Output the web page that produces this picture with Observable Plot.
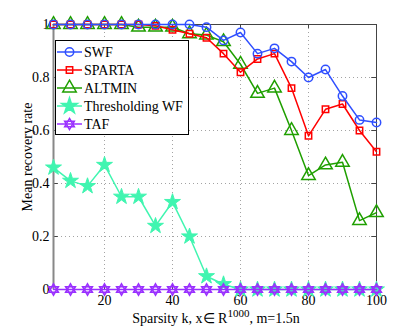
<!DOCTYPE html>
<html><head><meta charset="utf-8">
<script src="https://cdn.jsdelivr.net/npm/d3@7"></script>
<script src="https://cdn.jsdelivr.net/npm/@observablehq/plot@0.6"></script>
<style>
body{margin:0;background:#fff;font-family:"Liberation Serif"}
svg{display:block}
</style>
</head><body>
<script>
const ks = [5,10,15,20,25,30,35,40,45,50,55,60,65,70,75,80,85,90,95,100];
const swf = [1,1,1,1,1,1,1,1,1,0.99,0.94,0.97,0.89,0.91,0.86,0.80,0.83,0.73,0.64,0.63];
const sparta = [1,1,1,1,1,1,0.995,0.98,0.965,0.95,0.89,0.82,0.87,0.89,0.76,0.58,0.68,0.70,0.60,0.52];
const altmin = [1,1,1,1,1,0.99,0.99,0.99,0.965,0.96,0.935,0.85,0.74,0.76,0.60,0.43,0.47,0.48,0.26,0.29];
const thwf = [0.46,0.41,0.39,0.47,0.35,0.35,0.24,0.33,0.20,0.05,0.02,0,0,0,0,0,0,0,0,0];
const taf = [0,0,0,0,0,0,0,0,0,0,0,0,0,0,0,0,0,0,0,0];
const seriesNames = ["SWF","SPARTA","ALTMIN","Thresholding WF","TAF"];
const colors = ["#2f4fff","#ff0000","#1f9f00","#40f5b0","#9a30ff"];
const xTicks = [20,40,60,80,100];
const yTicks = [0,0.2,0.4,0.6,0.8,1];

const mk = (vals, s) => ks.map((k,i)=>({k, v: vals[i], s}));
const dSWF = mk(swf, seriesNames[0]);
const dSP = mk(sparta, seriesNames[1]);
const dAL = mk(altmin, seriesNames[2]);
const dTH = mk(thwf, seriesNames[3]);
const dTA = mk(taf, seriesNames[4]);
const font = "Liberation Serif";

const svg = Plot.plot({
  width: 415, height: 327,
  marginLeft: 53, marginRight: 39, marginTop: 24, marginBottom: 38,
  style: {fontFamily: font, fontSize: "14px", background: "#fff"},
  x: {domain: [5,100], ticks: xTicks, tickSize: 0, tickPadding: 6, label: null},
  y: {domain: [0,1], ticks: yTicks, tickSize: 0, tickPadding: 4, label: null, tickFormat: d3.format("")},
  marks: [
    Plot.gridX(xTicks.slice(0,4), {stroke: "#999", strokeOpacity: 0.9, strokeDasharray: "1,3"}),
    Plot.gridY(yTicks.slice(1,5), {stroke: "#999", strokeOpacity: 0.9, strokeDasharray: "1,3"}),
    Plot.frame({stroke: "#444", strokeWidth: 1}),
    Plot.ruleX(xTicks.slice(0,4), {y1: 0, y2: 0.015, stroke: "#444"}),
    Plot.ruleX(xTicks.slice(0,4), {y1: 1, y2: 0.985, stroke: "#444"}),
    Plot.ruleY(yTicks.slice(1,5), {x1: 5, x2: 6.4, stroke: "#444"}),
    Plot.ruleY(yTicks.slice(1,5), {x1: 100, x2: 98.6, stroke: "#444"}),
    Plot.ruleX([5], {stroke: "#888", strokeWidth: 2}),
    Plot.axisX({ticks: xTicks, tickSize: 0, tickPadding: 6, label: null, fontSize: 14}),
    Plot.axisY({ticks: yTicks, tickSize: 0, tickPadding: 4, label: null, fontSize: 14, tickFormat: d3.format("")}),
    // Thresholding WF
    Plot.line(dTH, {x: "k", y: "v", stroke: colors[3], strokeWidth: 1.5}),
    Plot.dot(dTH, {x: "k", y: "v", symbol: "star", r: 5, fill: colors[3], stroke: colors[3], strokeWidth: 1}),
    // TAF
    Plot.line(dTA, {x: "k", y: "v", stroke: colors[4], strokeWidth: 1.5}),
    Plot.dot(dTA, {x: "k", y: "v", symbol: "triangle", r: 3.6, fill: "none", stroke: colors[4], strokeWidth: 1.6}),
    Plot.dot(dTA, {x: "k", y: "v", symbol: "triangle", r: 3.6, rotate: 180, fill: "none", stroke: colors[4], strokeWidth: 1.6}),
    // ALTMIN
    Plot.line(dAL, {x: "k", y: "v", stroke: colors[2], strokeWidth: 1.5}),
    Plot.dot(dAL, {x: "k", y: "v", symbol: "triangle", r: 5, fill: "none", stroke: colors[2], strokeWidth: 1.5}),
    // SPARTA
    Plot.line(dSP, {x: "k", y: "v", stroke: colors[1], strokeWidth: 1.5}),
    Plot.dot(dSP, {x: "k", y: "v", symbol: "square", r: 3.6, fill: "none", stroke: colors[1], strokeWidth: 1.5}),
    // SWF
    Plot.line(dSWF, {x: "k", y: "v", stroke: colors[0], strokeWidth: 1.5}),
    Plot.dot(dSWF, {x: "k", y: "v", r: 4.2, fill: "none", stroke: colors[0], strokeWidth: 1.5})
  ]
});
svg.setAttribute("font-family", font);
svg.setAttribute("font-size", "14");
document.body.appendChild(svg);

const s = d3.select(svg);
// y label
s.append("text")
  .attr("transform", "translate(32,157) rotate(-90)")
  .attr("text-anchor", "middle")
  .attr("font-size", 14).attr("fill", "#000")
  .text("Mean recovery rate");
// x label with superscript
const xl = s.append("text")
  .attr("x", 216).attr("y", 323)
  .attr("text-anchor", "middle")
  .attr("font-size", 14).attr("fill", "#000");
xl.append("tspan").text("Sparsity k, x\u2208 R");
xl.append("tspan").attr("dy", -6).attr("font-size", 11).text("1000");
xl.append("tspan").attr("dy", 6).text(", m=1.5n");

// legend
const lg = s.append("g");
lg.append("rect").attr("x", 55.5).attr("y", 40.5).attr("width", 133).attr("height", 94)
  .attr("fill", "#fff").attr("stroke", "#000").attr("stroke-width", 1);
const syms = [
  {t: d3.symbolCircle, r: 4.2, fill: "none"},
  {t: d3.symbolSquare, r: 3.6, fill: "none"},
  {t: d3.symbolTriangle, r: 5, fill: "none"},
  {t: d3.symbolStar, r: 5, fill: "c"},
  {t: "hex", r: 3.6, fill: "none"}
];
seriesNames.forEach((name, i) => {
  const y = 52 + i * 18;
  lg.append("line").attr("x1", 57).attr("x2", 82).attr("y1", y).attr("y2", y)
    .attr("stroke", colors[i]).attr("stroke-width", 1.5);
  const sy = syms[i];
  const draw = (type, rot) => lg.append("path")
    .attr("d", d3.symbol(type, sy.r * sy.r * Math.PI)())
    .attr("transform", `translate(69.5,${y}) rotate(${rot})`)
    .attr("fill", sy.fill === "c" ? colors[i] : "none")
    .attr("stroke", colors[i]).attr("stroke-width", 1.5);
  if (sy.t === "hex") { draw(d3.symbolTriangle, 0); draw(d3.symbolTriangle, 180); }
  else draw(sy.t, 0);
});
seriesNames.forEach((name, i) => {
  s.append("text").attr("x", 84).attr("y", 52 + i * 18 + 5)
    .attr("text-anchor", "start")
    .attr("font-size", 14).attr("fill", "#000")
    .text(name);
});
// explicit font on every text element
svg.querySelectorAll("text").forEach(t => {
  t.setAttribute("font-family", font);
  if (!t.getAttribute("font-size")) t.setAttribute("font-size", "14");
});
</script>
</body></html>
